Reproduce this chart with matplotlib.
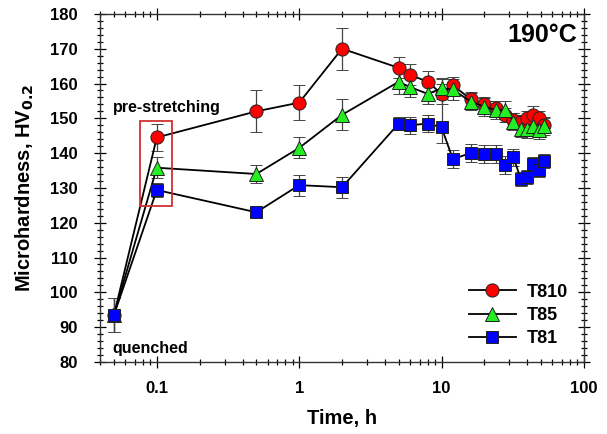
import matplotlib
matplotlib.use('Agg')
import matplotlib.pyplot as plt
import numpy as np
from matplotlib.ticker import MultipleLocator, LogLocator, FixedLocator, FixedFormatter, NullFormatter
from matplotlib.patches import Rectangle
from matplotlib.lines import Line2D

# Data
time_h = [0.05, 0.1, 0.5, 1, 2, 5, 6, 8, 10, 12, 16, 20, 24, 28, 32, 36, 40, 44, 48, 52]

hv_t810 = [93.5, 144.5, 152, 154.5, 170, 164.5, 162.5, 160.5, 157, 159.5,
           155.5, 154, 153, 151, 149.5, 149, 150, 151, 150, 148]
err_t810 = [5, 4, 6, 5, 6, 3, 3, 3, 3, 2.5, 2, 2, 2, 2, 2, 2, 2, 2.5, 2, 2]

hv_t85 = [93.5, 135.8, 134, 141.5, 151, 160.5, 159, 157, 158.6, 158.3,
          154.8, 153.3, 152.4, 152.5, 149, 147, 146.8, 147.8, 146.6, 147.8]
err_t85 = [5, 3, 2.5, 3, 4.5, 3.5, 3, 3, 3, 3, 2.5, 2.5, 2.5, 2.5, 2.5, 2.5, 2.5, 2.5, 2.5, 2.5]

hv_t81 = [93.5, 129.4, 123, 130.8, 130.2, 148.5, 148, 148.5, 147.4, 138.3,
          140, 139.7, 139.7, 136.6, 138.8, 132.6, 133.2, 137, 135.2, 137.8]
err_t81_lo = [5, 2, 1, 3, 3, 2, 2.5, 2.5, 4.5, 2.5, 2.5, 2.5, 2.5, 2.5, 2.5, 2, 2, 2, 2, 2]
err_t81_hi = [5, 2, 1, 3, 3, 2, 2.5, 2.5, 14, 2.5, 2.5, 2.5, 2.5, 2.5, 2.5, 2, 2, 2, 2, 2]

series_names = ['T810', 'T85', 'T81']
x_ticks = [0.1, 1, 10, 100]
x_ticklabels = ['0.1', '1', '10', '100']

plt.rcParams['font.family'] = ['Liberation Sans', 'DejaVu Sans']
plt.rcParams['font.weight'] = 'bold'

fig = plt.figure(figsize=(6.07, 4.34), dpi=100)
ax = fig.add_axes([0.165, 0.166, 0.797, 0.802])

common = dict(color='black', lw=1.3, ecolor='#444444', elinewidth=0.9,
              capsize=4, capthick=0.9, markeredgecolor='#222222', markeredgewidth=0.7)
styles = [('o', '#ff0000', 9.5), ('^', '#22ee22', 9.5), ('s', '#0000ff', 8.5)]

ax.errorbar(time_h, hv_t810, yerr=err_t810, fmt='-' + styles[0][0],
            markerfacecolor=styles[0][1], markersize=styles[0][2], **common)
ax.errorbar(time_h, hv_t85, yerr=err_t85, fmt='-' + styles[1][0],
            markerfacecolor=styles[1][1], markersize=styles[1][2], **common)
ax.errorbar(time_h, hv_t81, yerr=[err_t81_lo, err_t81_hi], fmt='-' + styles[2][0],
            markerfacecolor=styles[2][1], markersize=styles[2][2], **common)

# pre-stretching box
ax.add_patch(Rectangle((0.0764, 124.8), 0.128 - 0.0764, 149.2 - 124.8,
                       fill=False, edgecolor='#d03030', lw=1.3, zorder=5))

ax.set_xscale('log')
ax.set_xlim(0.04, 100)
ax.set_ylim(80, 180)

ax.xaxis.set_major_locator(FixedLocator(x_ticks))
ax.xaxis.set_major_formatter(FixedFormatter(x_ticklabels))
ax.xaxis.set_minor_locator(LogLocator(base=10, subs=np.arange(2, 10)))
ax.xaxis.set_minor_formatter(NullFormatter())
ax.yaxis.set_major_locator(MultipleLocator(10))
ax.yaxis.set_minor_locator(MultipleLocator(2))

ax.tick_params(which='both', direction='inout', top=True, right=True,
               labelsize=12, width=0.9)
ax.tick_params(axis='x', which='major', pad=10)
ax.tick_params(axis='y', which='major', pad=12)
ax.tick_params(which='major', length=8)
ax.tick_params(which='minor', length=5)
for sp in ax.spines.values():
    sp.set_linewidth(1.0)
    sp.set_color('#333333')

ax.set_xlabel('Time, h', fontsize=14.5, fontweight='bold', labelpad=9)
ax.set_ylabel('Microhardness, HV$_{\\mathbf{0.2}}$', fontsize=14.5, fontweight='bold', labelpad=10)

ax.text(0.985, 0.94, '190°C', transform=ax.transAxes, ha='right', va='center',
        fontsize=18, fontweight='bold')
ax.text(0.049, 153.0, 'pre-stretching', ha='left', va='center', fontsize=11.5, fontweight='bold')
ax.text(0.049, 84.0, 'quenched', ha='left', va='center', fontsize=11.5, fontweight='bold')

handles = [Line2D([], [], color='black', lw=1.3, marker=m, markerfacecolor=c, markersize=s,
                  markeredgecolor='#222222', markeredgewidth=0.7)
           for m, c, s in styles]
leg = ax.legend(handles, series_names, loc='lower right', bbox_to_anchor=(1.0, -0.005),
                frameon=False, fontsize=13, handlelength=2.6, handletextpad=0.6,
                labelspacing=0.35)
for t in leg.get_texts():
    t.set_fontweight('bold')

fig.savefig('out.png', dpi=100)
